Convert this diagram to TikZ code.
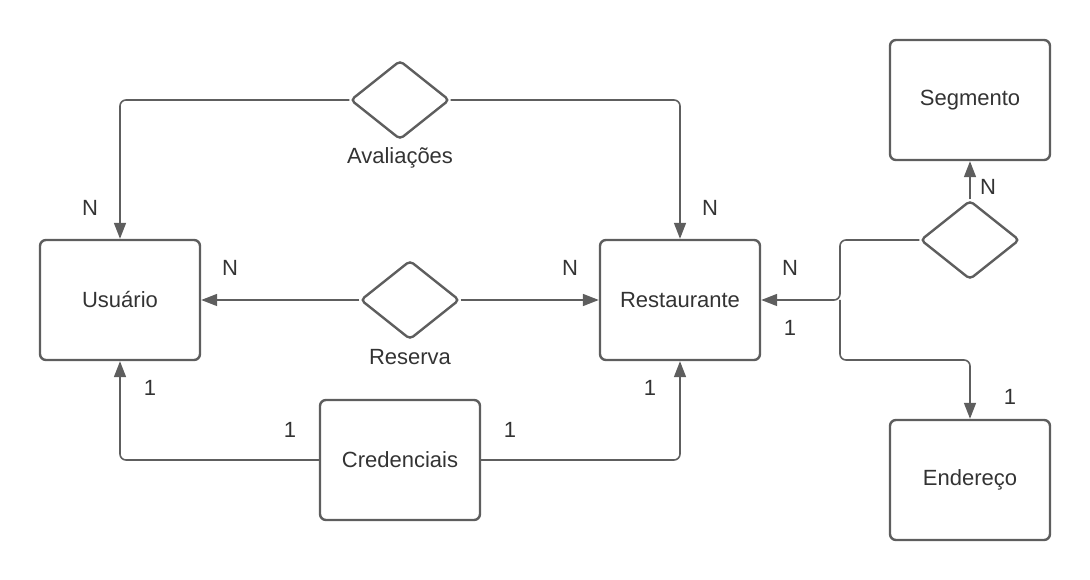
\documentclass[tikz,border=0pt]{standalone}
\usepackage{fontspec}
\setmainfont{Liberation Sans}
\usetikzlibrary{shapes.geometric,arrows.meta}
\definecolor{strk}{HTML}{5E5E5E}
\definecolor{txt}{HTML}{333333}
\begin{document}
\begin{tikzpicture}[x=0.75pt,y=-0.75pt,
  ent/.style={draw=strk,line width=2.4pt*0.75,rounded corners=6pt*0.75,minimum width=160*0.75pt,minimum height=120*0.75pt,inner sep=0pt,text=txt,font=\fontsize{16.5}{18}\selectfont},
  rel/.style={draw=strk,line width=2.4pt*0.75,diamond,aspect=1.26,minimum width=99*0.75pt,minimum height=79*0.75pt,inner sep=0pt,rounded corners=4pt*0.75},
  lab/.style={text=txt,font=\fontsize{16.5}{18}\selectfont,inner sep=0pt},
  con/.style={draw=strk,line width=1.6pt*0.75,rounded corners=6pt*0.75},
  arr/.style={con,-{Triangle[length=12pt,width=9pt]}}]
\useasboundingbox (0,0) rectangle (1090,580);
\node[ent] (usu) at (120,300) {Usuário};
\node[ent] (res) at (680,300) {Restaurante};
\node[ent] (cred) at (400,460) {Credenciais};
\node[ent] (seg) at (970,100) {Segmento};
\node[ent] (end) at (970,480) {Endereço};
\node[rel] (aval) at (400,100) {};
\node[rel] (resv) at (410,300) {};
\node[rel] (rd) at (970,240) {};
\coordinate (j) at (840,300);
% Avaliações
\draw[arr] (aval.west) -| (usu.north);
\draw[arr] (aval.east) -| (res.north);
% Reserva
\draw[arr] (resv.west) -- (usu.east);
\draw[arr] (resv.east) -- (res.west);
% Credenciais
\draw[arr] (cred.west) -| (usu.south);
\draw[arr] (cred.east) -| (res.south);
% right relation
\draw[arr] (rd.north) -- (seg.south);
\draw[arr] (rd.west) -| (j) -- (res.east);
\draw[arr] (j) |- (900,360) -| (end.north);
% labels
\node[lab] (l1) at (90,208) {N};
\node[lab] (l2) at (710,208) {N};
\node[lab] (l3) at (230,268) {N};
\node[lab] (l4) at (570,268) {N};
\node[lab] (l5) at (790,268) {N};
\node[lab] (l6) at (790,328) {1};
\node[lab] (l7) at (988,187) {N};
\node[lab] (l8) at (1010,397) {1};
\node[lab] (l9) at (150,388) {1};
\node[lab] (l10) at (290,430) {1};
\node[lab] (l11) at (510,430) {1};
\node[lab] (l12) at (650,388) {1};
\node[lab] (la) at (400,158) {Avaliações};
\node[lab] (lr) at (410,357) {Reserva};
\end{tikzpicture}
\end{document}
